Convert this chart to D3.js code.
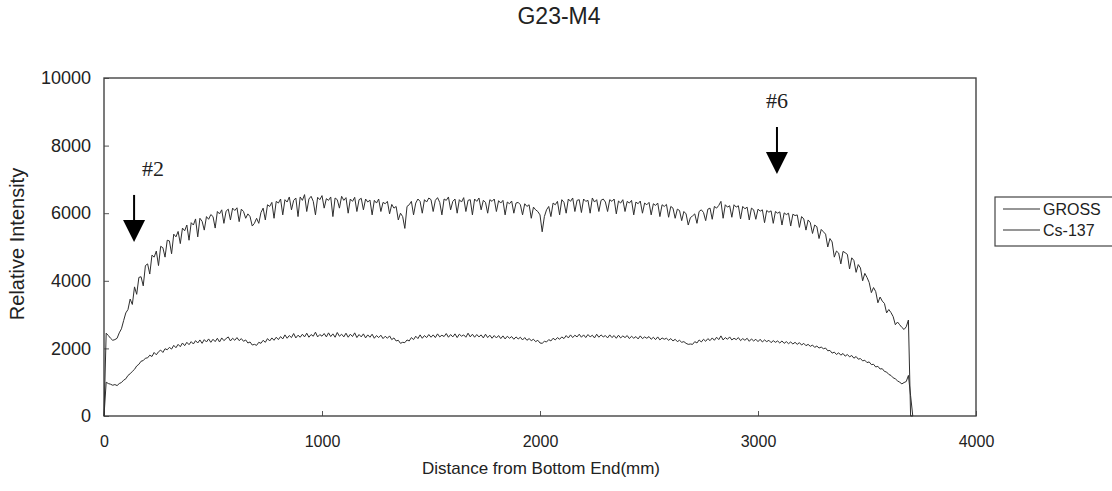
<!DOCTYPE html>
<html>
<head>
<meta charset="utf-8">
<script src="https://cdn.jsdelivr.net/npm/d3@7"></script>
<style>
  body { margin: 0; background: #fff; }
  svg text { font-family: "Liberation Sans", Arial, sans-serif; fill: #222; }
  .axis line { stroke: #555; }
  .axis path { display: none; }
</style>
</head>
<body>
<svg width="1112" height="491"></svg>
<script>
// distance along the rod, mm (scan step 10 mm)
const distance = d3.range(0, 3711, 10);

// GROSS counts
const gross = [
  0, 2450, 2380, 2300, 2240, 2260, 2300, 2460, 2580, 2820,
  3050, 3150, 3460, 3300, 3820, 3600, 4100, 4120, 3850, 4450,
  4500, 4200, 4760, 4700, 4880, 4450, 5020, 4980, 4700, 5200,
  5180, 4800, 5380, 5300, 5460, 5100, 5560, 5480, 5650, 5200,
  5720, 5650, 5830, 5300, 5850, 5760, 5500, 5900, 5820, 5960,
  5900, 5560, 6050, 5980, 6100, 5700, 6060, 6120, 5800, 6150,
  6080, 6160, 5750, 6120, 6050, 5850, 5980, 5900, 5620, 5700,
  5850, 5700, 6020, 6150, 5800, 6250, 6200, 6320, 5850, 6350,
  6300, 6420, 5950, 6400, 6330, 6480, 6100, 6380, 6450, 5900,
  6480, 6380, 6550, 6050, 6420, 6500, 6350, 5950, 6470, 6400,
  6520, 6150, 6430, 6380, 6480, 5900, 6450, 6400, 6150, 6500,
  6380, 6460, 6000, 6420, 6350, 6470, 6050, 6400, 6440, 6100,
  6420, 6330, 6390, 5950, 6380, 6300, 6420, 6050, 6320, 6280,
  6350, 5980, 6260, 6150, 6200, 5800, 6000, 5900, 5550, 6200,
  6250, 6350, 5950, 6300, 6420, 6350, 6000, 6400, 6330, 6450,
  6400, 6050, 6380, 6460, 6320, 5950, 6420, 6380, 6480, 6100,
  6350, 6420, 6000, 6400, 6330, 6460, 6050, 6380, 6400, 5950,
  6420, 6350, 6450, 6100, 6380, 6320, 6000, 6400, 6350, 6420,
  6050, 6370, 6300, 6380, 5950, 6330, 6280, 6360, 6000, 6300,
  6320, 6250, 5950, 6280, 6200, 6250, 5850, 6180, 6100, 6050,
  5950, 5450, 5900, 6100, 6200, 5900, 6300, 6250, 6350, 5950,
  6400, 6320, 6000, 6420, 6350, 6450, 6050, 6380, 6400, 6020,
  6420, 6350, 6380, 6000, 6450, 6330, 6400, 6050, 6380, 6420,
  6330, 6050, 6400, 6350, 6420, 5980, 6360, 6300, 6400, 6050,
  6350, 6300, 6380, 5950, 6330, 6280, 6360, 6000, 6300, 6250,
  6320, 5950, 6280, 6230, 6300, 5900, 6250, 6200, 6260, 5880,
  6200, 6150, 5850, 6120, 6080, 5780, 6050, 5980, 5650, 5870,
  5920, 5980, 5700, 6050, 6100, 6020, 5780, 6120, 6150, 5820,
  6200, 6150, 6230, 6350, 5850, 6250, 6180, 6220, 5880, 6250,
  6180, 6220, 5830, 6200, 6130, 6180, 5800, 6150, 6100, 5820,
  6120, 6060, 6100, 5720, 6080, 6030, 6070, 5700, 6050, 6000,
  6040, 5650, 6010, 5960, 6000, 5620, 5970, 5930, 5950, 5580,
  5900, 5830, 5500, 5800, 5720, 5400, 5650, 5600, 5250, 5520,
  5450, 5380, 5000, 5250, 5150, 4700, 4880, 4820, 4500, 4870,
  4830, 4780, 4350, 4680, 4600, 4250, 4480, 4380, 4000, 4220,
  4100, 3950, 3650, 3800, 3680, 3350, 3520, 3400, 3330, 3050,
  3150, 3060, 2940, 2700, 2780, 2700, 2620, 2560, 2640, 2840,
  0, 0
];

// Cs-137 counts
const cs137 = [
  0, 1000, 960, 940, 910, 930, 900, 960, 990, 1060,
  1100, 1200, 1250, 1320, 1380, 1480, 1530, 1620, 1640, 1710,
  1720, 1800, 1760, 1880, 1810, 1900, 1950, 1880, 1990, 1960,
  2030, 1980, 2090, 2020, 2120, 2050, 2160, 2080, 2180, 2110,
  2200, 2130, 2230, 2160, 2250, 2150, 2260, 2190, 2280, 2180,
  2270, 2200, 2300, 2190, 2310, 2230, 2290, 2340, 2220, 2300,
  2240, 2320, 2230, 2290, 2210, 2250, 2160, 2190, 2100, 2120,
  2090, 2180, 2150, 2240, 2180, 2290, 2220, 2310, 2240, 2330,
  2260, 2350, 2280, 2400, 2300, 2380, 2320, 2440, 2310, 2390,
  2330, 2420, 2340, 2450, 2330, 2410, 2360, 2480, 2340, 2410,
  2360, 2440, 2340, 2460, 2350, 2430, 2330, 2470, 2360, 2420,
  2340, 2450, 2330, 2420, 2350, 2460, 2320, 2410, 2340, 2430,
  2310, 2400, 2330, 2420, 2300, 2380, 2320, 2390, 2290, 2360,
  2300, 2370, 2260, 2310, 2220, 2240, 2150, 2180, 2170, 2250,
  2220, 2320, 2260, 2360, 2290, 2400, 2300, 2380, 2320, 2410,
  2330, 2400, 2320, 2430, 2340, 2390, 2350, 2440, 2330, 2410,
  2340, 2430, 2320, 2420, 2360, 2400, 2330, 2450, 2340, 2420,
  2330, 2410, 2340, 2400, 2310, 2420, 2320, 2390, 2300, 2380,
  2310, 2380, 2290, 2370, 2280, 2360, 2300, 2350, 2270, 2340,
  2280, 2330, 2250, 2320, 2240, 2290, 2230, 2270, 2200, 2240,
  2160, 2150, 2210, 2190, 2260, 2220, 2300, 2250, 2320, 2270,
  2340, 2290, 2380, 2310, 2400, 2320, 2390, 2340, 2420, 2330,
  2400, 2320, 2410, 2340, 2390, 2310, 2420, 2330, 2400, 2340,
  2380, 2310, 2400, 2320, 2380, 2300, 2390, 2310, 2370, 2320,
  2380, 2290, 2360, 2300, 2350, 2280, 2370, 2290, 2340, 2300,
  2350, 2270, 2330, 2260, 2340, 2250, 2310, 2270, 2300, 2240,
  2290, 2220, 2270, 2200, 2240, 2180, 2200, 2150, 2120, 2130,
  2120, 2200, 2160, 2250, 2190, 2270, 2210, 2290, 2230, 2310,
  2240, 2330, 2260, 2370, 2250, 2320, 2270, 2340, 2250, 2300,
  2260, 2320, 2230, 2290, 2240, 2300, 2210, 2280, 2220, 2270,
  2200, 2270, 2190, 2250, 2200, 2240, 2170, 2230, 2180, 2220,
  2160, 2220, 2150, 2200, 2140, 2190, 2130, 2180, 2120, 2170,
  2100, 2150, 2080, 2120, 2060, 2100, 2030, 2070, 2010, 2040,
  1990, 2010, 1930, 1940, 1860, 1890, 1820, 1870, 1800, 1850,
  1770, 1820, 1750, 1790, 1710, 1760, 1680, 1700, 1630, 1650,
  1580, 1600, 1520, 1530, 1450, 1470, 1390, 1400, 1320, 1300,
  1230, 1200, 1130, 1100, 1040, 1000, 950, 990, 1020, 1200,
  600, 0
];

const seriesNames = ["GROSS", "Cs-137"];
const xTicks = [0, 1000, 2000, 3000, 4000];
const yTicks = [0, 2000, 4000, 6000, 8000, 10000];

// pellet position markers: x in mm, arrow from top to tip in counts
const markers = [
  { label: "#2", x: 138, labelX: 225, top: 6540, tip: 5150 },
  { label: "#6", x: 3087, labelX: 3087, top: 8550, tip: 7160 }
];

const svg = d3.select("svg");

const x = d3.scaleLinear().domain([0, 4000]).range([104, 976]);
const y = d3.scaleLinear().domain([0, 10000]).range([416, 78]);

// title
svg.append("text")
  .attr("x", 559).attr("y", 24)
  .attr("text-anchor", "middle")
  .style("font-size", "23px")
  .text("G23-M4");

// axes with inward ticks
svg.append("g")
  .attr("class", "axis")
  .attr("transform", `translate(0,${y(0)})`)
  .call(d3.axisBottom(x).tickValues(xTicks).tickFormat(d3.format("d")).tickSize(-5).tickPadding(20))
  .selectAll("text").style("font-size", "16px").attr("fill", "#222");

svg.append("g")
  .attr("class", "axis")
  .attr("transform", `translate(${x(0)},0)`)
  .call(d3.axisLeft(y).tickValues(yTicks).tickFormat(d3.format("d")).tickSize(-5).tickPadding(13))
  .selectAll("text").style("font-size", "18px").attr("fill", "#222");

// plot frame
svg.append("rect")
  .attr("x", x(0)).attr("y", y(10000))
  .attr("width", x(4000) - x(0)).attr("height", y(0) - y(10000))
  .attr("fill", "none").attr("stroke", "#444").attr("stroke-width", 1.4);

// axis titles
svg.append("text")
  .attr("x", 541).attr("y", 474)
  .attr("text-anchor", "middle")
  .style("font-size", "17px")
  .text("Distance from Bottom End(mm)");

svg.append("text")
  .attr("transform", "translate(24,244) rotate(-90)")
  .attr("text-anchor", "middle")
  .style("font-size", "20px")
  .text("Relative Intensity");

// curves
const line = d3.line()
  .x(d => x(d[0]))
  .y(d => y(d[1]));

[gross, cs137].forEach(vals => {
  const n = Math.min(vals.length, distance.length);
  const pts = d3.range(n).map(i => [distance[i], vals[i]]);
  svg.append("path")
    .datum(pts)
    .attr("d", line)
    .attr("fill", "none")
    .attr("stroke", "#2e2e2e")
    .attr("stroke-width", 1);
});

// arrows
markers.forEach(m => {
  const ax = x(m.x);
  const headTop = y(m.tip) - 22;
  svg.append("line")
    .attr("x1", ax).attr("x2", ax)
    .attr("y1", y(m.top)).attr("y2", headTop + 1)
    .attr("stroke", "#000").attr("stroke-width", 2);
  svg.append("path")
    .attr("d", `M${ax - 11},${headTop}L${ax + 11},${headTop}L${ax},${y(m.tip)}Z`)
    .attr("fill", "#000");
  svg.append("text")
    .attr("x", x(m.labelX)).attr("y", y(m.top) - 19)
    .attr("text-anchor", "middle")
    .style("font-family", "'Liberation Serif', 'Times New Roman', serif")
    .style("font-size", "22px")
    .attr("fill", "#000")
    .text(m.label);
});

// legend
const legend = svg.append("g").attr("transform", "translate(995,197)");
legend.append("rect")
  .attr("width", 140).attr("height", 49)
  .attr("fill", "#fff").attr("stroke", "#444").attr("stroke-width", 1.2);
seriesNames.forEach((name, i) => {
  const ly = 12 + i * 21;
  legend.append("line")
    .attr("x1", 8).attr("x2", 45).attr("y1", ly).attr("y2", ly)
    .attr("stroke", "#2e2e2e").attr("stroke-width", 1.2);
  legend.append("text")
    .attr("x", 48).attr("y", ly + 6)
    .style("font-size", "16px")
    .text(name);
});
</script>
</body>
</html>
